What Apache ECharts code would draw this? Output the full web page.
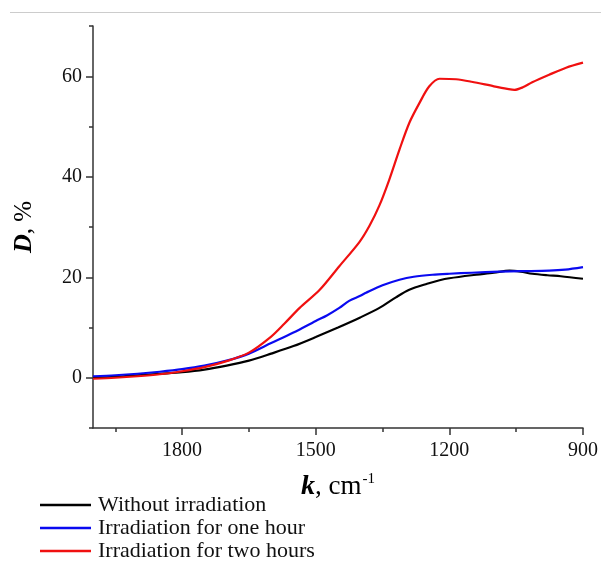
<!DOCTYPE html>
<html>
<head>
<meta charset="utf-8">
<script src="https://cdn.jsdelivr.net/npm/echarts@6/dist/echarts.min.js"></script>
<style>
html,body{margin:0;padding:0;background:#fff;}
#c{width:601px;height:563px;}
</style>
</head>
<body>
<div id="c"></div>
<script>
// ---- data ----
const seriesNames = ['Without irradiation', 'Irradiation for one hour', 'Irradiation for two hours'];
const xMajorTicks = [900, 1200, 1500, 1800];
const xMinorTicks = [1050, 1350, 1650, 1950];
const yMajorTicks = [0, 20, 40, 60];
const yMinorTicks = [-10, 10, 30, 50, 70];

const kBlack = [2000, 1950, 1900, 1850, 1800, 1750, 1700, 1650, 1600, 1550, 1500, 1450, 1400, 1357, 1320, 1290, 1250, 1222, 1200, 1150, 1100, 1065, 1040, 1014, 980, 950, 900];
const dBlack = [0.0, 0.2, 0.5, 0.8, 1.1, 1.6, 2.4, 3.4, 4.8, 6.3, 8.1, 10.0, 12.0, 13.9, 16.0, 17.5, 18.7, 19.4, 19.8, 20.4, 20.9, 21.3, 21.1, 20.7, 20.4, 20.2, 19.7];

const kBlue = [2000, 1950, 1900, 1850, 1800, 1750, 1700, 1650, 1600, 1550, 1500, 1475, 1447, 1425, 1400, 1387, 1350, 1312, 1280, 1238, 1200, 1150, 1088, 1040, 976, 940, 900];
const dBlue = [0.3, 0.5, 0.8, 1.2, 1.7, 2.4, 3.4, 4.8, 6.9, 9.0, 11.3, 12.4, 13.9, 15.3, 16.3, 16.9, 18.4, 19.5, 20.1, 20.5, 20.7, 20.9, 21.1, 21.2, 21.3, 21.5, 22.0];

const kRed = [2000, 1950, 1900, 1850, 1800, 1750, 1700, 1650, 1600, 1570, 1536, 1491, 1447, 1402, 1379, 1357, 1335, 1312, 1290, 1267, 1245, 1222, 1185, 1150, 1100, 1070, 1054, 1035, 1014, 976, 938, 900];
const dRed = [-0.2, 0.0, 0.3, 0.7, 1.3, 2.1, 3.3, 5.0, 8.2, 10.8, 13.9, 17.5, 22.2, 27.0, 30.3, 34.3, 39.4, 45.4, 50.7, 54.7, 58.0, 59.5, 59.4, 58.9, 58.0, 57.5, 57.3, 57.8, 58.8, 60.3, 61.7, 62.7];

const colors = ['#000000', '#0a0af0', '#f01010'];

function zip(ks, ds) { return ks.map((k, i) => [k, ds[i]]); }

const chart = echarts.init(document.getElementById('c'), null, {renderer: 'canvas'});
const FONT = '"Liberation Serif", "Times New Roman", serif';
const axisColor = '#333';

const xBase = {
  type: 'value', min: 900, max: 2000, inverse: true, gridIndex: 0,
  splitLine: {show: false},
  axisLine: {show: true, onZero: false, lineStyle: {color: axisColor, width: 1.5}},
};
const yBase = {
  type: 'value', min: -10, max: 70, gridIndex: 0,
  splitLine: {show: false},
  axisLine: {show: true, onZero: false, lineStyle: {color: axisColor, width: 1.5}},
};
const plain = v => String(v);

const option = {
  backgroundColor: '#fff',
  animation: false,
  textStyle: {fontFamily: FONT},
  grid: {left: 93, right: 17, top: 26, bottom: 135, containLabel: false},
  graphic: [{
    type: 'line', shape: {x1: 10, y1: 12.5, x2: 601, y2: 12.5},
    style: {stroke: '#cccccc', lineWidth: 1.2}
  }],
  xAxis: [
    Object.assign({}, xBase, {
      position: 'bottom',
      name: '{b|k}{n|, cm}{s|-1}',
      nameLocation: 'middle', nameGap: 44, nameMoveOverlap: false,
      nameTextStyle: {
        color: '#000', verticalAlign: 'top',
        rich: {
          b: {fontFamily: FONT, fontSize: 28, fontStyle: 'italic', fontWeight: 'bold', color: '#000', lineHeight: 30},
          n: {fontFamily: FONT, fontSize: 27, color: '#000', lineHeight: 30},
          s: {fontFamily: FONT, fontSize: 15, color: '#000', verticalAlign: 'top', lineHeight: 30, padding: [0, 0, 12, 1]}
        }
      },
      axisTick: {show: true, inside: false, length: 7, customValues: xMajorTicks, lineStyle: {color: axisColor, width: 1.5}},
      axisLabel: {show: true, customValues: xMajorTicks, margin: 13, fontSize: 20, color: '#111', fontFamily: FONT, formatter: plain}
    }),
    Object.assign({}, xBase, {
      position: 'bottom',
      axisLine: {show: false, onZero: false},
      axisTick: {show: true, inside: false, length: 4, customValues: xMinorTicks, lineStyle: {color: axisColor, width: 1.5}},
      axisLabel: {show: false}
    })
  ],
  yAxis: [
    Object.assign({}, yBase, {
      position: 'left',
      name: '{b|D}{n|, %}',
      nameLocation: 'middle', nameGap: 56, nameRotate: 90, nameMoveOverlap: false,
      nameTextStyle: {
        color: '#000',
        rich: {
          b: {fontFamily: FONT, fontSize: 26, fontStyle: 'italic', fontWeight: 'bold', color: '#000'},
          n: {fontFamily: FONT, fontSize: 25, color: '#000'}
        }
      },
      axisTick: {show: true, inside: false, length: 7, customValues: yMajorTicks, lineStyle: {color: axisColor, width: 1.5}},
      axisLabel: {show: true, customValues: yMajorTicks, margin: 11, fontSize: 20, color: '#111', fontFamily: FONT, formatter: plain}
    }),
    Object.assign({}, yBase, {
      position: 'left',
      axisLine: {show: false, onZero: false},
      axisTick: {show: true, inside: false, length: 4, customValues: yMinorTicks, lineStyle: {color: axisColor, width: 1.5}},
      axisLabel: {show: false}
    })
  ],
  legend: {
    show: true, orient: 'vertical', left: 40, top: 494, height: 80, padding: 0,
    icon: 'rect', itemWidth: 51, itemHeight: 2.5, itemGap: 1,
    textStyle: {fontFamily: FONT, fontSize: 22, color: '#111', lineHeight: 22, padding: [0, 0, 0, 2]},
    data: seriesNames
  },
  series: [
    {name: seriesNames[0], type: 'line', data: zip(kBlack, dBlack), color: colors[0]},
    {name: seriesNames[1], type: 'line', data: zip(kBlue, dBlue), color: colors[1]},
    {name: seriesNames[2], type: 'line', data: zip(kRed, dRed), color: colors[2]}
  ].map(s => Object.assign(s, {
    xAxisIndex: 0, yAxisIndex: 0, showSymbol: false, symbol: 'none', smooth: 0.3,
    lineStyle: {width: 2.2, color: s.color}, itemStyle: {color: s.color}
  }))
};
chart.setOption(option);
</script>
</body>
</html>
